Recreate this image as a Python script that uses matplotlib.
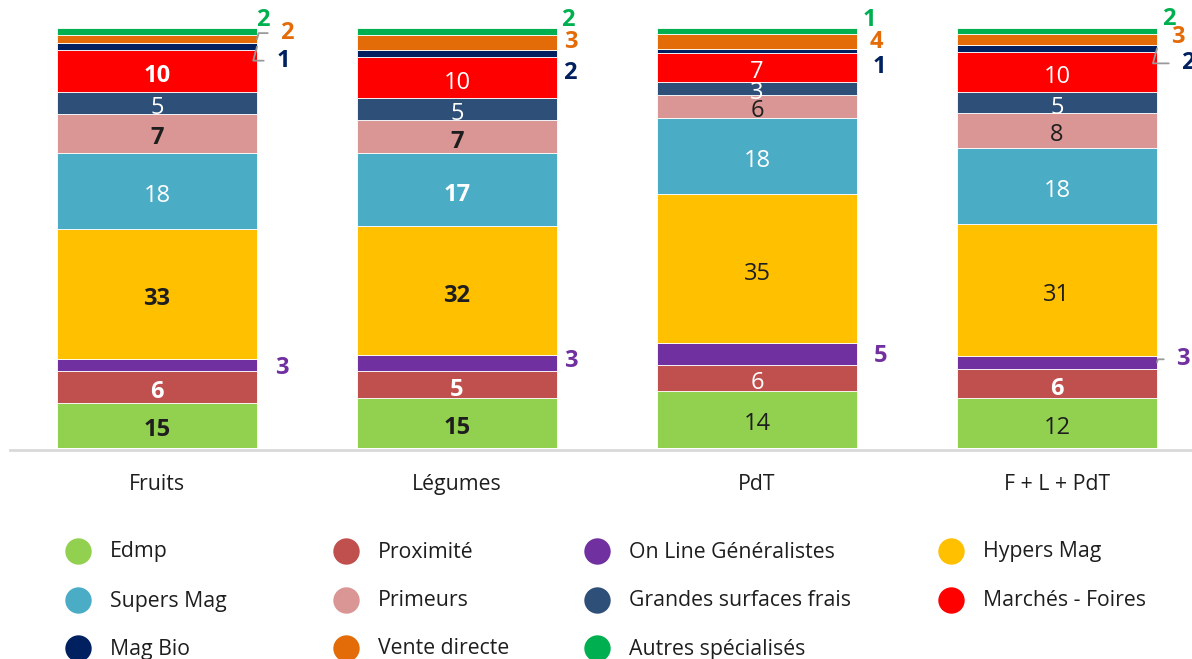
import matplotlib
matplotlib.use("Agg")
import matplotlib.pyplot as plt
import numpy as np

plt.rcParams['font.family'] = ['Open Sans', 'DejaVu Sans']

# ---------------- data ----------------
categories = ['Fruits', 'Légumes', 'PdT', 'F + L + PdT']
series_names = ['Edmp', 'Proximité', 'On Line Généralistes', 'Hypers Mag',
                'Supers Mag', 'Primeurs', 'Grandes surfaces frais',
                'Marchés - Foires', 'Mag Bio', 'Vente directe', 'Autres spécialisés']

# segment shares (% of bar), bottom to top
edmp      = [10.7, 11.9, 13.6, 11.7]
proximite = [7.6, 6.4, 6.0, 6.9]
online    = [2.9, 3.8, 5.2, 3.2]
hypers    = [31.0, 30.7, 35.2, 31.0]
supers    = [18.1, 17.4, 18.1, 17.9]
primeurs  = [9.3, 7.9, 5.5, 8.3]
gsf       = [5.2, 5.2, 3.1, 4.8]
marches   = [10.0, 9.8, 6.7, 9.6]
magbio    = [1.7, 1.7, 1.0, 1.6]
vente     = [1.9, 3.6, 3.6, 2.6]
autres    = [1.7, 1.7, 1.4, 1.4]

# displayed data labels
lab_edmp      = [15, 15, 14, 12]
lab_proximite = [6, 5, 6, 6]
lab_online    = [3, 3, 5, 3]
lab_hypers    = [33, 32, 35, 31]
lab_supers    = [18, 17, 18, 18]
lab_primeurs  = [7, 7, 6, 8]
lab_gsf       = [5, 5, 3, 5]
lab_marches   = [10, 10, 7, 10]
lab_magbio    = [1, 2, 1, 2]
lab_vente     = [2, 3, 4, 3]
lab_autres    = [2, 2, 1, 2]

values = [edmp, proximite, online, hypers, supers, primeurs, gsf, marches,
          magbio, vente, autres]
labels = [lab_edmp, lab_proximite, lab_online, lab_hypers, lab_supers,
          lab_primeurs, lab_gsf, lab_marches, lab_magbio, lab_vente, lab_autres]

# ---------------- styles ----------------
colors = ['#92D050', '#C0504D', '#7030A0', '#FFC000', '#4BACC6', '#D99694',
          '#2E4F77', '#FF0000', '#002060', '#E36C09', '#00B050']
DARK = '#1e1e1e'
inside_idx = [0, 1, 3, 4, 5, 6, 7]
inside_color = {0: DARK, 1: 'white', 3: DARK, 4: 'white', 5: DARK, 6: 'white', 7: 'white'}
# bold flags per category for inside labels (Highcharts rendering quirk)
inside_bold = {
    0: [True, True, False, False],
    1: [True, True, False, True],
    3: [True, True, False, False],
    4: [False, True, False, False],
    5: [True, True, False, False],
    6: [False, False, False, False],
    7: [True, False, False, False],
}
outside_idx = [2, 8, 9, 10]
# label offsets (px) from the right edge of the bar / segment centre
outside_off = {
    10: [(6, -12), (11, -12), (12, -11), (12, -12)],
    9:  [(30, -6), (14, -1), (19, 0), (21, -2)],
    8:  [(26, 14), (13, 19), (22, 16), (31, 15)],
    2:  [(25, 3), (14, -2), (24, 2), (26, -3)],
}
connector = {(9, 0), (8, 0), (8, 3), (2, 3)}
LABEL_FS = 17

W, H = 1192, 659
fig = plt.figure(figsize=(W / 100, H / 100), dpi=100)
bar_top, bar_bot = 28, 448
ax = fig.add_axes([0, (H - bar_bot) / H, 1, (bar_bot - bar_top) / H])
first_c, step = 157, 300
ax.set_xlim(-first_c / step, (W - first_c) / step)
ax.set_ylim(0, 100)
bw = 200 / step

vals = np.array(values, dtype=float)
vals = vals / vals.sum(axis=0) * 100
x = np.arange(len(categories))
bottom = np.zeros(len(categories))
bottoms = []
for s in range(len(series_names)):
    ax.bar(x, vals[s], bw, bottom=bottom, color=colors[s], edgecolor='white',
           linewidth=0.6, label=series_names[s], zorder=2)
    bottoms.append(bottom.copy())
    bottom = bottom + vals[s]

for s in inside_idx:
    for i in range(len(categories)):
        cy = bottoms[s][i] + vals[s][i] / 2
        ax.annotate(str(labels[s][i]), xy=(i, cy), xytext=(0, -3.5),
                    textcoords='offset points', ha='center', va='center',
                    fontsize=LABEL_FS, color=inside_color[s],
                    fontweight='bold' if inside_bold[s][i] else 'normal', zorder=3)

for s in outside_idx:
    for i in range(len(categories)):
        cy = bottoms[s][i] + vals[s][i] / 2
        dx, dy = outside_off[s][i]
        ap = None
        if (s, i) in connector:
            ap = dict(arrowstyle='-', color='#9a9a9a', lw=1.3,
                      shrinkA=7, shrinkB=0,
                      connectionstyle='angle,angleA=0,angleB=75,rad=0')
        ax.annotate(str(labels[s][i]), xy=(i + bw / 2, cy),
                    xytext=(dx * 0.72, -dy * 0.72), textcoords='offset points',
                    ha='center', va='center', fontsize=LABEL_FS, fontweight='bold',
                    color=colors[s], arrowprops=ap, annotation_clip=False, zorder=3)

ax.set_xticks(x)
ax.set_xticklabels(categories, fontsize=15.3, color='#1e1e1e')
ax.tick_params(axis='x', length=0, pad=19)
ax.set_yticks([])
for sp in ax.spines.values():
    sp.set_visible(False)

# baseline
lax = fig.add_axes([0, 0, 1, 1], zorder=-1)
lax.set_xlim(0, W)
lax.set_ylim(H, 0)
lax.axis('off')
lax.plot([10, W], [450, 450], color='#d9d9d9', lw=2)

# legend
leg_ax = fig.add_axes([0, 0, 1, 1])
leg_ax.set_xlim(0, W)
leg_ax.set_ylim(H, 0)
leg_ax.axis('off')
col_x = [78, 346, 597, 951]
row_y = [551, 600, 648]
for k, name in enumerate(series_names):
    r, c = divmod(k, 4)
    leg_ax.scatter([col_x[c]], [row_y[r]], s=19 ** 2, color=colors[k], lw=0)
    leg_ax.text(col_x[c] + 32, row_y[r] + 1, name, ha='left', va='center',
                fontsize=15.3, color='#1e1e1e')

fig.savefig('out.png', dpi=100)
